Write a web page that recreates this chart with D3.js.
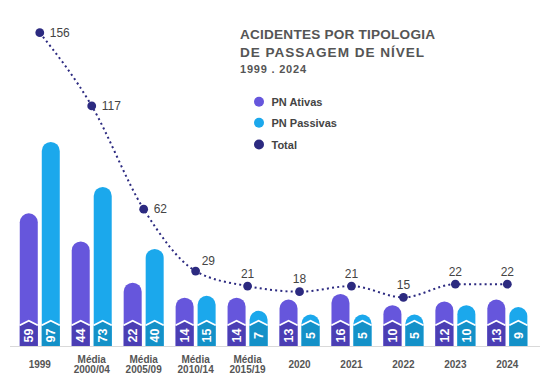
<!DOCTYPE html>
<html><head><meta charset="utf-8">
<script src="https://cdn.jsdelivr.net/npm/d3@7"></script>
<style>
html,body{margin:0;padding:0;background:#fff;}
svg{display:block;font-family:"Liberation Sans",Arial,sans-serif;}
</style></head>
<body><svg id="c" width="549" height="383"></svg>
<script>
const categories = ["1999","Média 2000/04","Média 2005/09","Média 2010/14","Média 2015/19","2020","2021","2022","2023","2024"];
const categoryLines = [["1999"],["Média","2000/04"],["Média","2005/09"],["Média","2010/14"],["Média","2015/19"],["2020"],["2021"],["2022"],["2023"],["2024"]];
const pnAtivas   = [59,44,22,14,14,13,16,10,12,13];
const pnPassivas = [97,73,40,15,7,5,5,5,10,9];
const total      = [156,117,62,29,21,18,21,15,22,22];
const seriesNames = ["PN Ativas","PN Passivas","Total"];
const titleLines = ["ACIDENTES POR TIPOLOGIA","DE PASSAGEM DE NÍVEL"];
const subtitle = "1999 . 2024";

const colors = {
  "PN Ativas":{light:"#6656dc",dark:"#4b3eb4"},
  "PN Passivas":{light:"#1ba8ec",dark:"#1491c8"},
  "Total":{light:"#2c2a80"}
};

const svg = d3.select("#c");
const baseY = 346;
const x = d3.scaleBand().domain(categories).range([13.8,533.3]).paddingInner(0).paddingOuter(0);
const xs = d3.scaleBand().domain(["PN Ativas","PN Passivas"]).range([-20,20]).paddingInner(0.182);
const y = d3.scaleLinear().domain([0,156]).range([325.5,32.7]);
const cx = c => x(c) + x.bandwidth()/2;

// baseline
svg.append("line").attr("x1",10).attr("x2",540).attr("y1",baseY+0.5).attr("y2",baseY+0.5)
  .attr("stroke","#d9d9d9").attr("stroke-width",1);

const bars = [];
categories.forEach((c,i)=>{
  bars.push({c, key:"PN Ativas", v:pnAtivas[i]});
  bars.push({c, key:"PN Passivas", v:pnPassivas[i]});
});

const w = xs.bandwidth();
const r = w/2;
const g = svg.append("g");
bars.forEach(d=>{
  const x0 = cx(d.c) + xs(d.key);
  const top = y(d.v) - 1.5;
  const p = d3.path();
  p.moveTo(x0, baseY);
  p.lineTo(x0, top + r);
  p.arc(x0 + r, top + r, r, Math.PI, 0);
  p.lineTo(x0 + w, baseY);
  p.closePath();
  g.append("path").attr("d", p.toString()).attr("fill", colors[d.key].light);
  const peak = 321.5, sh = 326;
  g.append("path")
    .attr("d", `M${x0},${baseY}L${x0},${sh}L${x0+w/2},${peak}L${x0+w},${sh}L${x0+w},${baseY}Z`)
    .attr("fill", colors[d.key].dark);
  g.append("path")
    .attr("d", `M${x0},${sh-0.8}L${x0+w/2},${peak-0.8}L${x0+w},${sh-0.8}`)
    .attr("fill","none").attr("stroke","#fff").attr("stroke-width",1.8);
  g.append("text")
    .attr("transform", `translate(${x0+w/2+4.3},${335.5}) rotate(-90)`)
    .attr("text-anchor","middle")
    .attr("fill","#fff").attr("font-weight","bold").attr("font-size","12.5px")
    .text(d.v);
});

// total line
const line = d3.line().x((d,i)=>cx(categories[i])).y(d=>y(d)).curve(d3.curveMonotoneX);
svg.append("path").datum(total).attr("d", line)
  .attr("fill","none").attr("stroke", colors.Total.light).attr("stroke-width",2)
  .attr("stroke-dasharray","2,3.2");
svg.append("g").selectAll("circle").data(total).join("circle")
  .attr("cx",(d,i)=>cx(categories[i])).attr("cy",d=>y(d)).attr("r",4.4)
  .attr("fill", colors.Total.light);
svg.append("g").selectAll("text").data(total).join("text")
  .attr("x",(d,i)=> i<3 ? cx(categories[i])+10 : (i===3 ? cx(categories[i])+6 : cx(categories[i])))
  .attr("y",(d,i)=> i<3 ? y(d)+4 : (i===3 ? y(d)-6 : y(d)-8.5))
  .attr("text-anchor",(d,i)=> i<4 ? "start" : "middle")
  .attr("fill","#444").attr("font-size","12px")
  .text(d=>d);

// category labels
const lab = svg.append("g").attr("fill","#555").attr("font-size","10px").attr("font-weight","bold").attr("text-anchor","middle");
categoryLines.forEach((lines,i)=>{
  const t = lab.append("text").attr("x", cx(categories[i]));
  if(lines.length===1){
    t.attr("y",367.7).text(lines[0]);
  } else {
    t.append("tspan").attr("x",cx(categories[i])).attr("y",362.7).text(lines[0]);
    t.append("tspan").attr("x",cx(categories[i])).attr("y",372.7).text(lines[1]);
  }
});

// title
const tg = svg.append("g").attr("fill","#555");
const titleWidths = [195,184];
titleLines.forEach((tl,i)=>{
  tg.append("text").attr("x",240).attr("y",39.3 + i*17.4).attr("font-size","13.6px").attr("font-weight","bold")
    .attr("textLength",titleWidths[i]).attr("lengthAdjust","spacing").text(tl);
});
tg.append("text").attr("x",240).attr("y",73.3).attr("font-size","11px").attr("font-weight","bold")
  .attr("textLength",66).attr("lengthAdjust","spacing").text(subtitle);

// legend
const lg = svg.append("g");
seriesNames.forEach((s,i)=>{
  const yy = [101.7,122.7,144.5][i];
  lg.append("circle").attr("cx",259).attr("cy",yy).attr("r",5).attr("fill",colors[s].light);
  lg.append("text").attr("x",271.5).attr("y",yy+4).attr("font-size","11px").attr("font-weight","bold").attr("fill","#444").text(s);
});
</script></body></html>
